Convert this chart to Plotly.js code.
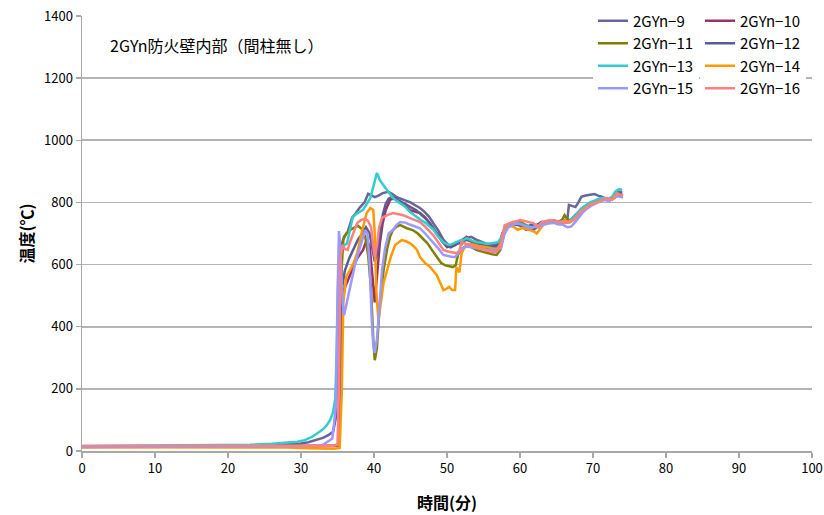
<!DOCTYPE html>
<html>
<head>
<meta charset="utf-8">
<script src="https://cdn.plot.ly/plotly-3.0.1.min.js"></script>
<style>html,body{margin:0;padding:0;background:#fff;}#chart{width:824px;height:515px;}</style>
</head>
<body>
<div id="chart"></div>
<script>
const names = ['2GYn−9','2GYn−10','2GYn−11','2GYn−12','2GYn−13','2GYn−14','2GYn−15','2GYn−16'];
const colors = ['#666699','#993366','#808000','#5c5c94','#33CCCC','#FF9900','#9999FF','#FF8080'];

const t9 = [0,5,10,15,20,24,27,29,30,31,32,33,33.8,34.4,34.8,35.0,35.2,35.5,35.9,36.4,37.0,37.5,38.1,38.7,39.2,39.7,40.1,40.6,41.2,41.9,42.5,43.1,43.7,44.2,45.0,45.7,46.3,47.0,47.6,48.1,48.8,49.5,50.1,50.6,51.0,51.5,52.0,52.7,53.3,54.0,54.7,55.3,56.0,56.6,57.2,57.6,58.1,58.6,59.2,59.8,60.3,60.8,61.3,61.8,62.3,62.8,63.3,63.9,64.5,65.1,65.7,66.3,66.5,66.7,67.1,67.6,68.0,68.4,69.0,69.6,70.2,70.7,71.3,71.8,72.3,72.8,73.2,73.6,74.0];
const v9 = [15,15,16,16,17,18,20,22,24,28,34,42,52,62,110,330,580,660,690,705,750,765,785,800,828,822,817,822,830,834,828,817,812,808,800,790,782,768,752,734,710,680,665,660,668,672,665,685,689,680,673,668,665,664,668,700,725,730,728,727,722,712,714,711,720,735,733,740,742,740,738,745,748,792,790,785,800,818,822,824,827,822,818,812,808,818,830,834,832];

const t10 = [0,10,20,28,32,34.5,35.2,35.4,35.6,35.9,36.4,37.0,37.7,38.5,39.0,39.4,39.8,40.1,40.4,40.8,41.2,41.6,42.2,42.8,43.5,44.2,44.9,45.6,46.3,47.0,47.6,48.1,48.8,49.5,50.0,50.6,51.1,51.6,52.1,52.7,53.3,54.0,54.8,55.5,56.2,57.0,57.5,57.9,58.4,59.0,59.6,60.2,60.8,61.4,62.0,62.6,63.2,63.8,64.5,65.2,65.8,66.4,67.0,67.6,68.2,68.9,69.6,70.3,71.0,71.6,72.2,72.7,73.2,73.7,74.0];
const v10 = [13,13,14,15,15,16,18,250,450,520,550,582,620,647,680,660,560,478,560,669,735,775,808,814,800,790,775,770,766,752,735,717,695,669,656,660,663,672,680,689,675,663,655,653,650,653,670,710,722,730,735,733,725,722,728,723,732,738,742,738,735,740,745,760,772,785,795,800,806,812,808,815,826,822,820];

const t11 = [0,10,20,28,32,34.5,35.2,35.4,35.6,35.8,36.2,36.7,37.3,37.8,38.3,38.8,39.2,39.6,39.9,40.1,40.4,40.8,41.3,41.8,42.2,42.6,43.1,43.6,44.5,45.3,46.0,46.7,47.3,48.0,48.6,49.2,49.7,50.3,50.8,51.2,51.5,52.0,52.7,53.4,54.1,54.8,55.5,56.2,56.8,57.3,57.9,58.4,59.0,59.6,60.2,60.8,61.4,62.0,62.6,63.2,63.8,64.5,65.2,65.8,66.1,66.4,66.8,67.3,67.9,68.5,69.1,69.7,70.3,71.0,71.6,72.2,72.8,73.3,73.8,74.1];
const v11 = [14,14,15,16,16,17,20,350,600,680,700,711,720,725,715,690,630,520,360,292,330,476,580,650,690,711,722,727,717,711,700,685,669,645,624,605,598,595,592,598,631,650,663,655,647,642,637,633,631,647,711,727,733,738,735,728,720,725,727,733,738,740,737,745,759,750,738,745,760,775,788,795,802,808,812,806,812,822,826,822];

const t12 = [0,10,20,28,32,34.5,35.2,35.4,35.6,36.0,36.6,37.2,37.8,38.4,38.9,39.4,39.8,40.1,40.4,40.8,41.2,41.6,42.0,42.5,43.0,43.6,44.3,45.0,45.8,46.5,47.2,47.9,48.6,49.3,49.9,50.5,51.0,51.5,52.0,52.6,53.2,53.9,54.6,55.3,56.0,56.7,57.2,57.6,58.1,58.7,59.3,59.9,60.5,61.0,61.5,62.0,62.5,63.0,63.6,64.2,64.8,65.4,66.0,66.6,67.2,67.8,68.4,69.0,69.6,70.2,70.8,71.4,72.0,72.6,73.1,73.6,74.0];
const v12 = [14,14,15,16,17,18,22,300,520,580,620,650,680,700,720,700,640,610,630,700,760,795,812,818,812,805,795,785,775,760,745,725,700,675,660,655,662,668,672,680,676,668,664,660,658,660,665,700,722,728,730,727,725,722,728,725,730,738,736,740,735,738,740,738,745,762,780,790,798,803,808,812,808,812,822,830,828];

const t13 = [0,10,20,23,26,28,29.5,30.5,31.5,32.3,33.0,33.5,34.0,34.4,34.7,34.9,35.1,35.4,35.8,36.3,36.8,37.1,37.7,38.5,39.0,39.5,39.9,40.2,40.4,40.6,40.8,41.3,41.8,42.2,42.6,43.1,43.6,44.2,44.9,45.6,46.3,47.0,47.6,48.1,48.8,49.5,50.0,50.4,50.9,51.3,51.8,52.3,52.7,53.4,54.1,54.8,55.4,55.9,56.5,57.0,57.5,58.0,58.5,59.1,59.7,60.3,60.9,61.5,62.1,62.7,63.3,63.9,64.6,65.3,66.0,66.6,67.2,67.8,68.4,69.0,69.6,70.2,70.8,71.4,72.0,72.6,73.1,73.6,74.0];
const v13 = [16,17,18,20,23,26,30,35,45,58,70,82,100,125,170,330,560,640,660,668,720,753,765,776,795,814,850,880,895,885,872,855,840,828,814,805,798,788,770,757,745,735,722,713,690,672,665,663,668,672,678,680,685,677,672,670,666,668,670,672,690,725,732,735,733,728,725,720,722,728,736,740,742,736,740,735,750,765,780,790,800,806,812,815,810,818,836,843,840];

const t14 = [0,10,20,28,31,33,34.5,35.3,35.6,35.8,36.2,36.7,37.2,37.7,38.3,39.0,39.5,39.9,40.1,40.3,40.6,40.9,41.3,41.8,42.3,42.9,43.4,43.8,44.4,44.9,45.4,45.9,46.3,47.0,47.7,48.2,48.6,49.1,49.5,49.9,50.3,50.7,51.1,51.3,51.5,51.7,52.0,52.5,53.0,53.6,54.3,55.0,55.7,56.4,57.0,57.5,58.0,58.5,59.1,59.7,60.3,60.9,61.5,62.0,62.3,62.7,63.2,63.8,64.4,65.0,65.6,66.2,66.8,67.4,68.0,68.6,69.2,69.8,70.4,71.0,71.6,72.2,72.8,73.3,73.8,74.1];
const v14 = [12,12,12,11,9,7,7,10,200,480,560,582,605,637,702,766,782,776,700,520,420,470,540,582,625,663,672,679,675,669,660,647,624,605,592,578,566,540,518,522,528,518,518,592,582,575,637,660,667,665,660,658,655,650,653,675,715,725,722,712,718,715,710,705,700,712,728,735,733,738,735,742,735,745,760,772,785,795,800,805,810,806,815,825,822,820];

const t15 = [0,10,20,28,31,33,34.3,34.8,35.0,35.2,35.4,35.7,35.9,36.2,36.7,37.4,38.1,38.8,39.1,39.4,39.7,39.9,40.1,40.4,40.8,41.1,41.5,42.0,42.6,43.1,43.6,44.3,45.0,45.7,46.3,47.0,47.6,48.1,48.8,49.5,50.1,50.6,51.1,51.6,52.1,52.7,53.4,54.1,54.8,55.5,56.2,56.9,57.4,57.9,58.4,59.0,59.6,60.2,60.8,61.4,62.0,62.6,63.2,63.8,64.5,65.2,65.9,66.5,67.0,67.5,68.0,68.6,69.2,69.8,70.4,71.0,71.6,72.2,72.8,73.3,73.8,74.1];
const v15 = [13,13,14,15,16,20,40,150,500,708,650,480,437,470,528,600,657,711,700,600,420,340,315,360,480,582,650,700,711,728,737,735,728,722,717,700,685,672,652,631,627,625,624,640,652,658,655,652,650,648,646,648,652,700,720,728,732,730,722,718,722,720,728,732,735,730,728,720,722,735,750,768,780,790,797,802,808,805,812,820,818,816];

const t16 = [0,10,20,28,32,34.5,35.0,35.2,35.4,35.7,36.0,36.4,36.7,37.2,37.7,38.2,38.7,39.2,39.6,39.9,40.1,40.4,40.7,41.1,41.8,42.6,43.3,44.0,44.7,45.5,46.3,47.0,47.6,48.1,48.8,49.5,50.1,50.8,51.3,51.7,52.0,52.5,53.0,53.7,54.4,55.0,55.7,56.3,56.8,57.3,57.9,58.4,59.0,59.6,60.0,60.5,61.0,61.5,61.8,62.5,63.0,63.6,64.1,64.8,65.5,66.0,66.4,66.9,67.3,67.8,68.2,68.9,69.6,70.3,71.0,71.5,71.9,72.3,72.6,73.0,73.3,73.7,74.1];
const v16 = [16,16,16,16,16,17,20,200,620,663,650,647,672,700,734,743,748,740,720,660,624,660,720,750,759,766,762,759,752,745,737,722,708,695,672,647,642,640,637,645,672,668,663,658,652,647,644,640,642,657,727,732,737,740,743,741,737,735,734,721,737,740,743,740,737,735,734,740,743,756,769,780,792,798,805,810,814,812,808,818,830,826,824];

const xTicks = [0,10,20,30,40,50,60,70,80,90,100];
const yTicks = [0,200,400,600,800,1000,1200,1400];
const chartNote = '2GYn防火壁内部（間柱無し）';
const xTitle = '時間(分)';
const yTitle = '温度(℃)';

const seriesT = [t9,t10,t11,t12,t13,t14,t15,t16];
const seriesV = [v9,v10,v11,v12,v13,v14,v15,v16];
const legendOf = ['legend','legend2','legend','legend2','legend','legend2','legend','legend2'];

const traces = seriesT.map((t,i) => ({
  type:'scatter', mode:'lines', x:t, y:seriesV[i], name:names[i],
  line:{color:colors[i], width:2.5}, legend:legendOf[i], hoverinfo:'skip'
}));

const F = '"Noto Sans CJK JP", "Noto Sans", sans-serif';
const layout = {
  width:824, height:515,
  margin:{l:82, r:12, t:16, b:64, autoexpand:false},
  paper_bgcolor:'#fff', plot_bgcolor:'#fff',
  font:{family:F, size:13, color:'#000'},
  showlegend:true,
  xaxis:{range:[0,100], tickvals:xTicks, ticktext:xTicks.map(String), showgrid:false, zeroline:false,
    showline:true, linecolor:'#a8a8a8', linewidth:1.5, ticks:'outside', ticklen:5, tickcolor:'#a8a8a8', tickwidth:1.5,
    tickfont:{size:13, family:F}, title:{text:xTitle, font:{size:16, family:F, weight:'bold'}, standoff:21}},
  yaxis:{range:[0,1400], tickvals:yTicks, ticktext:yTicks.map(String), showgrid:true, gridcolor:'#b4b4b4', gridwidth:1.6, zeroline:false,
    showline:true, linecolor:'#a8a8a8', linewidth:1.5, ticks:'outside', ticklen:5, tickcolor:'#a8a8a8', tickwidth:1.5,
    tickfont:{size:13, family:F}, title:{text:yTitle, font:{size:16, family:F, weight:'bold'}, standoff:6}},
  legend:{x:(593-82)/730, y:1.0264, xanchor:'left', yanchor:'top', bgcolor:'#fff', borderwidth:0,
    font:{size:15, family:F}, itemwidth:30, tracegroupgap:0, itemclick:false},
  legend2:{x:(700-82)/730, y:1.0264, xanchor:'left', yanchor:'top', bgcolor:'#fff', borderwidth:0,
    font:{size:15, family:F}, itemwidth:30, tracegroupgap:0, itemclick:false},
  annotations:[{text:chartNote, xref:'paper', yref:'paper', x:(108-82)/730, y:(451-45)/435, xanchor:'left', yanchor:'middle',
    showarrow:false, font:{size:16, family:F, color:'#000'}}]
};

Plotly.newPlot('chart', traces, layout, {staticPlot:true, displayModeBar:false});
</script>
</body>
</html>
